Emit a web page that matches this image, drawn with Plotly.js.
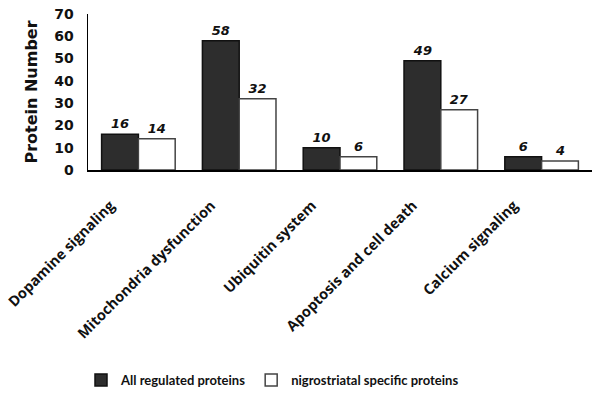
<!DOCTYPE html>
<html><head><meta charset="utf-8">
<script src="https://cdn.plot.ly/plotly-3.0.1.min.js"></script>
<style>html,body{margin:0;padding:0;background:#fff}#chart{width:600px;height:400px}</style>
</head><body><div id="chart"></div>
<script>
var categories = ["Dopamine signaling","Mitochondria dysfunction","Ubiquitin system","Apoptosis and cell death","Calcium signaling"];
var allRegulated = [16, 58, 10, 49, 6];
var nigrostriatal = [14, 32, 6, 27, 4];
var seriesNames = ["All regulated proteins", "nigrostriatal specific proteins"];
var yTicks = [0,10,20,30,40,50,60,70];

var labelFont = {family:"DejaVu Sans", size:13, color:"#111", weight:"bold", style:"italic"};
var traces = [
  {type:"bar", name:seriesNames[0], x:categories, y:allRegulated, text:allRegulated.map(String),
   textposition:"outside", textfont:labelFont, cliponaxis:false,
   marker:{color:"#2d2d2d", line:{color:"#111", width:1.5}}},
  {type:"bar", name:seriesNames[1], x:categories, y:nigrostriatal, text:nigrostriatal.map(String),
   textposition:"outside", textfont:labelFont, cliponaxis:false,
   marker:{color:"#ffffff", line:{color:"#444", width:1.5}}}
];
var layout = {
  width:600, height:400,
  margin:{l:88, r:8, t:14, b:230},
  paper_bgcolor:"#fff", plot_bgcolor:"#fff",
  barmode:"group", bargap:0.27, bargroupgap:0,
  showlegend:true,
  legend:{orientation:"h", xref:"container", x:0.135, xanchor:"left", yref:"container", y:0.05, yanchor:"middle",
    itemwidth:30, font:{family:"Lato", size:13, weight:"bold", color:"#111"}},
  xaxis:{tickangle:-45, showline:true, linecolor:"#000", linewidth:1.5, ticks:"", showgrid:false,
    ticklabelstandoff:20, ticklabelshift:-28,
    tickfont:{family:"Open Sans", size:14.5, weight:"bold", color:"#111"}},
  yaxis:{range:[0,70], tickvals:yTicks, showline:true, linecolor:"#000", linewidth:1.5, ticks:"",
    showgrid:false, zeroline:false, ticklabelstandoff:10,
    tickfont:{family:"DejaVu Sans", size:14, weight:"bold", color:"#111"},
    title:{text:"Protein Number", standoff:12, font:{family:"DejaVu Sans", size:16, weight:"bold", color:"#111"}}}
};
Plotly.newPlot("chart", traces, layout, {displayModeBar:false, staticPlot:true});
</script></body></html>
